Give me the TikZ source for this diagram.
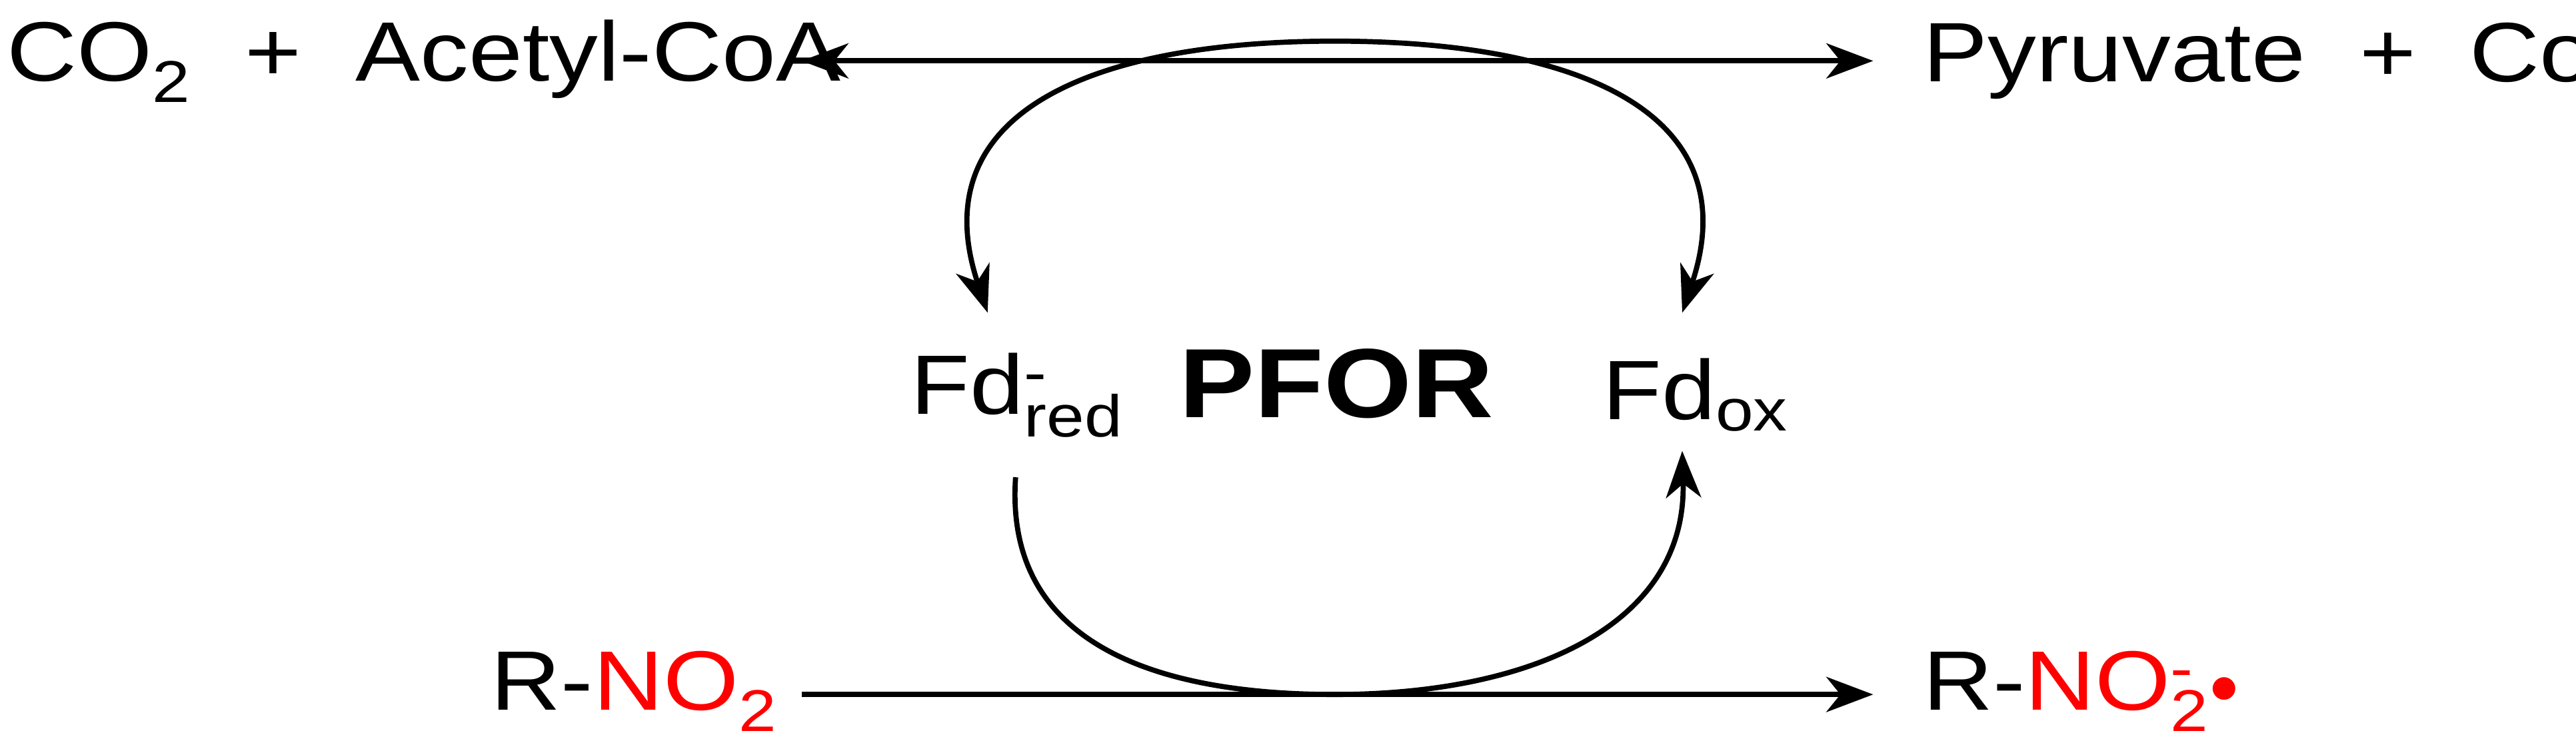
\documentclass[tikz,border=0pt]{standalone}
\usepackage{fontspec}
\setmainfont[FakeStretch=1.15]{Liberation Sans}
\usetikzlibrary{arrows.meta}
\begin{document}
\begin{tikzpicture}[x=0.0247cm,y=-0.0247cm,every node/.style={inner sep=0,font=\fontsize{36}{42}\selectfont}]

\tikzstyle{species} = [anchor=west]
\tikzstyle{arrow} = [line width=2.2pt,-{Stealth[length=20pt,width=15pt,inset=6pt]}]
\tikzstyle{twoway} = [line width=2.2pt,{Stealth[length=20pt,width=15pt,inset=6pt]}-{Stealth[length=20pt,width=15pt,inset=6pt]}]

\useasboundingbox (0,0) rectangle (1565,457.5);

\node [species] (co2) at (4,37) {CO\textsubscript{2}\ \ +\ \ Acetyl-CoA};
\node [species] (pyr) at (1168,37) {Pyruvate\ \ +\ \ CoA};
\node [species] (rno2) at (298,420) {R-\textcolor{red}{NO\textsubscript{2}}};
\node [species] (rad) at (1168,420) {R-\textcolor{red}{NO\rlap{\textsuperscript{-}}\textsubscript{2}\raisebox{0.15ex}{$\bullet$}}};

\node (fdred) at (618,240) {Fd\rlap{\textsuperscript{-}}\textsubscript{red}};
\node [font=\fontsize{42}{48}\selectfont\bfseries] (pfor) at (812,233) {PFOR};
\node (fdox) at (1030,240) {Fd\textsubscript{ox}};

\coordinate (topl) at (487,37);
\coordinate (topr) at (1138,37);
\coordinate (botl) at (487,422);
\coordinate (botr) at (1138,422);

\draw [twoway] (topl) -- (topr);
\draw [arrow] (botl) -- (botr);

\coordinate (ul) at (600,190);
\coordinate (ur) at (1022,190);
\coordinate (ll) at (617,290);
\coordinate (lr) at (1022,274);

\draw [twoway] (ul) .. controls (560,70) and (660,25) .. (811,25)
  .. controls (962,25) and (1062,70) .. (ur);
\draw [arrow] (ll) .. controls (610,390) and (700,422) .. (811,422)
  .. controls (930,422) and (1025,380) .. (lr);
\end{tikzpicture}
\end{document}
